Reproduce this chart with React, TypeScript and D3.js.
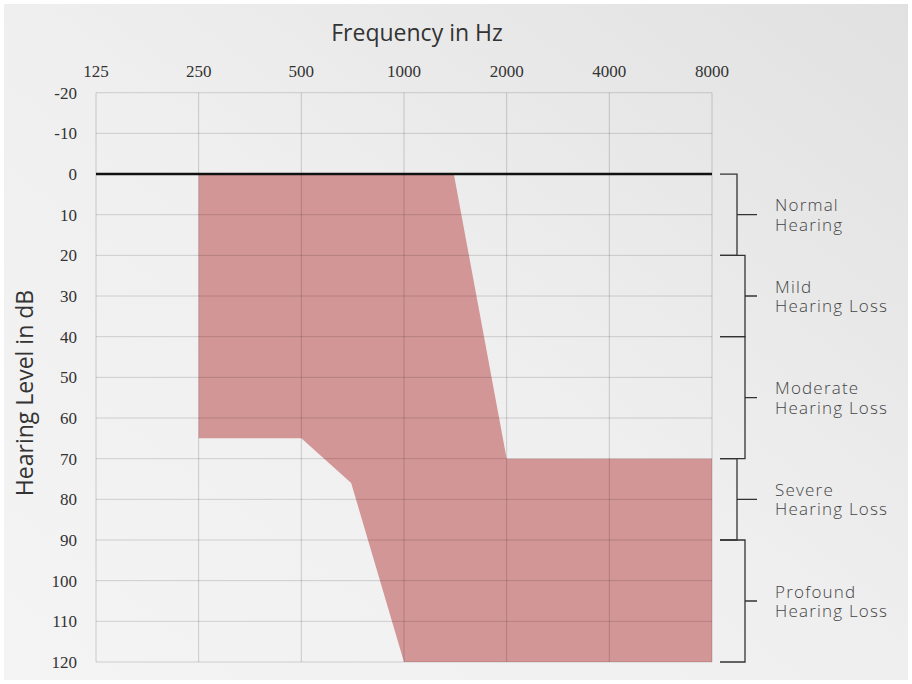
import React from "react";
import * as d3 from "d3";

const freqTicks = [125, 250, 500, 1000, 2000, 4000, 8000];
const dbTicks = [-20, -10, 0, 10, 20, 30, 40, 50, 60, 70, 80, 90, 100, 110, 120];
const areaFreq = [250, 1400, 2000, 8000, 8000, 1000, 700, 500, 250];
const areaDb = [0, 0, 70, 70, 120, 120, 76, 65, 65];
const catLine1 = ["Normal", "Mild", "Moderate", "Severe", "Profound"];
const catLine2 = ["Hearing", "Hearing Loss", "Hearing Loss", "Hearing Loss", "Hearing Loss"];
const catFrom = [0, 20, 40, 70, 90];
const catTo = [20, 40, 70, 90, 120];

const W = 912, H = 684;
const bracketDepth = [17, 25, 25, 17, 25];

export default function App() {
  const x = d3.scaleLog().base(2).domain([125, 8000]).range([96, 712]);
  const y = d3.scaleLinear().domain([-20, 120]).range([92.7, 662]);
  const pts: [number, number][] = areaFreq.map((f, i) => [x(f), y(areaDb[i])]);
  const area = d3.line()(pts) + "Z";
  const x0 = x.range()[0], x1 = x.range()[1];
  const y0 = y.range()[0], y1 = y.range()[1];
  const bx = x1 + 8;
  const tickFont = "'Liberation Serif', serif";
  const sans = "'Open Sans', 'Noto Sans', sans-serif";
  return (
    <svg width={W} height={H} style={{ position: "absolute", left: 0, top: 0 }}>
      <defs>
        <linearGradient id="bg" x1="0" y1="1" x2="1" y2="0">
          <stop offset="0" stopColor="#f4f4f4" />
          <stop offset="0.5" stopColor="#efefef" />
          <stop offset="1" stopColor="#e1e1e1" />
        </linearGradient>
      </defs>
      <rect x={0} y={0} width={W} height={H} fill="#ffffff" />
      <rect x={4} y={4} width={W - 8} height={H - 8} fill="url(#bg)" />
      <path d={area} fill="#d39696" />
      {dbTicks.map((d) => (
        <line key={"h" + d} x1={x0} x2={x1} y1={y(d)} y2={y(d)} stroke="#000" strokeOpacity={0.15} strokeWidth={1} />
      ))}
      {freqTicks.map((f) => (
        <line key={"v" + f} x1={x(f)} x2={x(f)} y1={y0} y2={y1} stroke="#000" strokeOpacity={0.17} strokeWidth={1} />
      ))}
      <line x1={x0} x2={x1} y1={y(0)} y2={y(0)} stroke="#111" strokeWidth={2.5} />
      {freqTicks.map((f) => (
        <text key={"xt" + f} x={x(f)} y={77} textAnchor="middle" fontFamily={tickFont} fontSize={17} fill="#333">{f}</text>
      ))}
      {dbTicks.map((d) => (
        <text key={"yt" + d} x={77} y={y(d)} dy="0.35em" textAnchor="end" fontFamily={tickFont} fontSize={17} fill="#333">{d}</text>
      ))}
      <text x={417} y={41} textAnchor="middle" fontFamily={sans} fontSize={23} fill="#333">Frequency in Hz</text>
      <text transform={`translate(33,${393}) rotate(-90)`} textAnchor="middle" fontFamily={sans} fontSize={23} fill="#333">Hearing Level in dB</text>
      {catLine1.map((n, i) => {
        const ya = y(catFrom[i]), yb = y(catTo[i]), ym = (ya + yb) / 2;
        const vx = bx + bracketDepth[i];
        return (
          <g key={"c" + i}>
            <path d={`M${bx},${ya}H${vx}V${yb}H${bx}M${vx},${ym}H${bx + 37}`} fill="none" stroke="#333" strokeWidth={1.3} />
            <text x={775} y={ym - 3.4} fontFamily={sans} fontSize={17} fontWeight={300} letterSpacing={1.2} fill="#444">{n}</text>
            <text x={775} y={ym + 16} fontFamily={sans} fontSize={17} fontWeight={300} letterSpacing={1.2} fill="#444">{catLine2[i]}</text>
          </g>
        );
      })}
    </svg>
  );
}
